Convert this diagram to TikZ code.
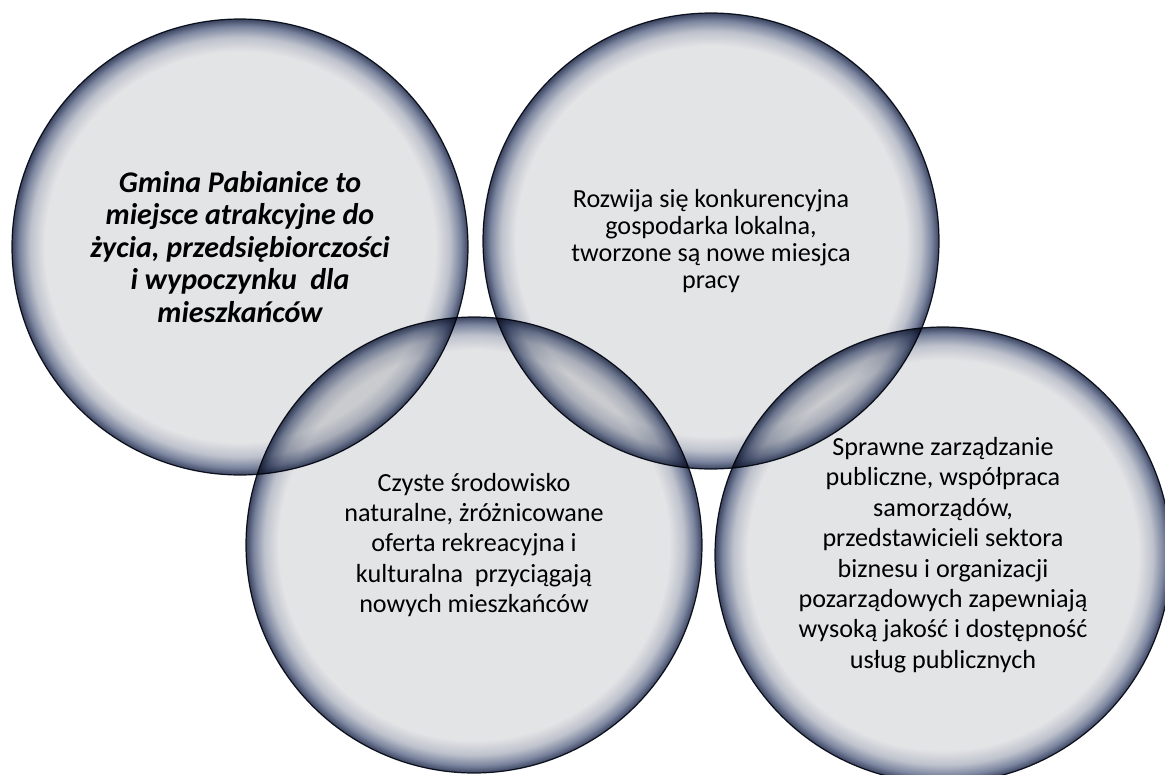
\documentclass[tikz,border=0pt]{standalone}
\usepackage{fontspec}
\setmainfont{Carlito}
\usepackage{xcolor}
\usepackage{tikz}

\definecolor{bubbleLight}{RGB}{227,228,230}
\definecolor{bubbleSoft}{RGB}{190,194,204}
\definecolor{bubbleMid}{RGB}{122,132,158}
\definecolor{bubbleDark}{RGB}{58,68,96}
\definecolor{bubbleLine}{RGB}{25,30,45}
% the rim of a circle path sits at 25bp of the shading
\pgfdeclareradialshading{bubble}{\pgfpoint{0bp}{0bp}}{color(0bp)=(bubbleLight); color(21.4bp)=(bubbleLight); color(23bp)=(bubbleSoft); color(24.2bp)=(bubbleMid); color(25bp)=(bubbleDark); color(50bp)=(bubbleDark)}

\tikzset{bubbletext/.style={circle, draw=bubbleLine, line width=0.9pt, shading=bubble, minimum size=342pt, inner sep=0pt, align=center}}

\begin{document}
\begin{tikzpicture}[x=0.75pt, y=-0.75pt]
                        \useasboundingbox (0,0) rectangle (1165,775);
                        \begin{scope}[blend mode=multiply]
                        \node (life) at (240, 247) [bubbletext, font=\fontsize{22.5}{24.4}\selectfont\bfseries\itshape] {Gmina Pabianice to\\miejsce atrakcyjne do\\życia, przedsiębiorczości\\i wypoczynku\ \ dla\\mieszkańców};
                        
                        \foreach \k/\i/\j/\s/\t in {economy/711/241/20.4/{Rozwija się konkurencyjna\\gospodarka lokalna,\\tworzone są nowe miesjca\\pracy}, nature/474/545/22.6/{Czyste środowisko\\naturalne, żróżnicowane\\oferta rekreacyjna i\\kulturalna\ \ przyciągają\\nowych mieszkańców}, governance/943/555/22.8/{Sprawne zarządzanie\\publiczne, współpraca\\samorządów,\\przedstawicieli sektora\\biznesu i organizacji\\pozarządowych zapewniają\\wysoką jakość i dostępność\\usług publicznych}} {
                            \node (\k) at (\i, \j) [bubbletext, font=\fontsize{19.6}{\s}\selectfont] {\t};
                        }
                        \end{scope}
                    \end{tikzpicture}
\end{document}
